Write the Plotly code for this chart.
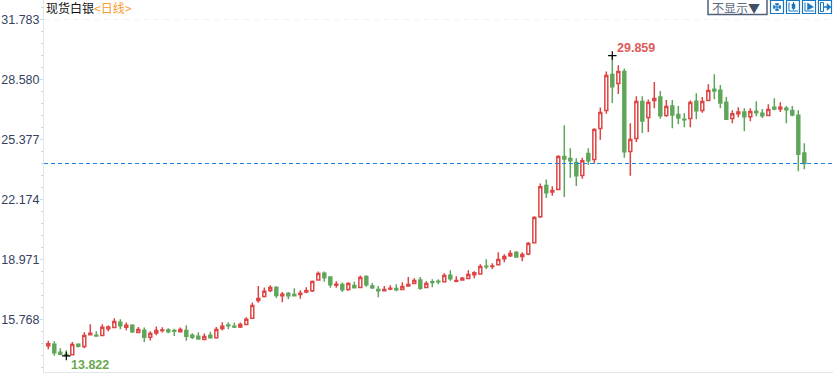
import plotly.graph_objects as go

title_name = "现货白银"
title_period = "&lt;日线&gt;"
tick_values = [15.768, 18.971, 22.174, 25.377, 28.580, 31.783]
tick_labels = ["15.768", "18.971", "22.174", "25.377", "28.580", "31.783"]
last_close = 24.096
peak_value = 29.859
trough_value = 13.822

high = [14.63,14.61,14.23,14.13,14.56,14.50,15.09,15.52,15.14,15.52,15.45,15.84,15.78,15.61,15.52,15.37,15.34,15.14,15.39,15.36,
        15.30,15.27,15.34,15.46,15.04,15.09,15.02,15.12,15.37,15.62,15.62,15.61,15.61,15.89,16.67,17.56,17.47,17.60,17.56,17.23,
        17.23,17.44,17.33,17.49,17.85,18.33,18.33,18.08,17.81,17.74,17.76,17.78,18.12,18.13,17.71,17.55,17.55,17.60,17.65,17.76,
        18.03,17.97,18.03,17.81,17.92,17.92,18.24,18.40,18.08,18.03,18.40,18.35,18.72,18.99,18.77,19.36,19.25,19.47,19.42,19.36,
        19.90,21.28,23.03,23.24,22.88,24.54,26.14,24.91,24.38,24.40,24.91,25.98,27.08,29.01,29.859,29.34,29.17,26.25,27.69,27.69,
        27.51,28.44,27.96,27.48,27.48,27.16,26.78,27.46,27.85,27.64,28.33,28.86,28.28,27.64,26.94,27.10,27.05,27.05,27.42,27.00,
        27.26,27.58,27.37,27.16,27.16,26.94,25.18]
low = [14.18,13.83,13.86,13.822,13.86,14.27,14.23,14.91,14.88,14.89,15.14,15.32,15.25,15.20,15.05,15.05,14.56,14.64,14.93,15.07,
       15.04,14.89,15.09,14.63,14.73,14.68,14.68,14.75,14.77,15.18,15.25,15.32,15.32,15.46,15.80,16.66,16.94,17.23,16.91,16.69,
       16.85,17.01,16.87,17.17,17.24,17.87,17.78,17.46,17.46,17.23,17.30,17.44,17.46,17.51,17.39,16.96,17.28,17.33,17.28,17.35,
       17.55,17.67,17.35,17.44,17.49,17.65,17.76,17.83,17.76,17.87,17.94,17.97,18.19,18.45,18.47,18.67,18.83,19.11,19.10,18.88,
       19.20,19.82,21.18,22.26,22.37,22.69,22.31,23.33,22.90,23.28,24.01,24.08,25.36,26.75,27.33,27.81,24.40,23.44,25.25,25.73,
       25.78,27.05,26.48,26.59,25.98,26.19,26.03,26.03,26.46,26.80,27.44,27.53,27.05,26.46,26.25,26.57,25.82,26.35,26.62,26.52,
       26.62,26.94,26.84,26.25,26.62,23.68,23.79]
open_ = [14.36,14.45,14.02,13.90,13.88,14.45,14.32,14.95,14.93,14.91,15.27,15.34,15.62,15.36,15.46,15.07,15.20,14.82,15.05,15.18,
         15.21,15.18,15.12,15.18,14.93,14.88,14.70,14.93,14.79,15.29,15.48,15.41,15.37,15.50,15.84,16.78,16.99,17.31,17.47,17.03,
         17.15,17.10,17.10,17.24,17.30,17.88,18.24,18.03,17.60,17.63,17.37,17.58,17.47,18.06,17.55,17.37,17.30,17.39,17.42,17.37,
         17.56,17.69,17.87,17.47,17.78,17.81,17.78,18.13,17.81,17.88,17.96,18.15,18.20,18.61,18.60,18.69,19.01,19.17,19.34,19.13,
         19.27,19.86,21.25,22.92,22.58,22.71,24.47,24.36,24.15,23.45,24.63,24.31,25.96,26.92,28.85,28.37,29.01,24.73,25.43,27.40,
         26.55,27.46,27.64,26.66,27.16,26.71,26.46,26.50,27.42,26.92,27.46,28.06,28.01,27.37,26.50,26.75,26.84,26.59,26.89,26.78,
         26.66,27.10,27.01,27.05,26.92,26.67,24.65]
close = [14.47,13.99,13.91,13.84,14.43,14.34,14.91,15.04,14.89,15.36,15.37,15.66,15.43,15.46,15.11,15.23,14.82,15.02,15.18,15.21,
         15.11,15.14,15.23,14.88,14.82,14.73,14.86,14.79,15.23,15.41,15.43,15.37,15.50,15.78,16.51,16.89,17.28,17.47,17.05,17.12,
         17.03,17.03,17.17,17.30,17.80,18.22,17.99,17.62,17.65,17.35,17.69,17.46,18.01,17.62,17.46,17.30,17.37,17.44,17.35,17.53,
         17.63,17.85,17.44,17.69,17.74,17.78,18.12,17.94,17.85,17.97,18.17,18.26,18.60,18.58,18.63,18.97,19.13,19.29,19.11,19.24,
         19.82,21.21,22.85,22.53,22.65,24.47,24.34,24.24,23.44,24.24,24.24,25.91,26.82,28.79,28.19,29.01,24.72,25.38,27.40,26.37,
         27.35,27.56,26.64,27.14,26.69,26.53,26.43,27.35,26.91,27.41,27.99,27.97,27.33,26.46,26.75,26.84,26.59,26.87,26.80,26.64,
         26.98,27.01,27.10,26.96,26.69,24.59,24.09]
index = list(range(len(close)))
peak_index = 94
trough_index = 3

RED = "#dd4444"
GREEN = "#5fa65a"
W, H = 833, 373
L, PH = 44, 372
PW = W - L


def px(x):
    return (x - L) / PW


def py(y):
    return 1 - y / PH


def path(points, closed=False):
    s = "M " + " L ".join(f"{px(x):.5f},{py(y):.5f}" for x, y in points)
    return s + (" Z" if closed else "")


shapes = [
    dict(type="line", xref="paper", yref="y", x0=0, x1=1, y0=last_close, y1=last_close,
         line=dict(color="#1a80e8", width=1, dash="4px,3px")),
    dict(type="line", xref="paper", yref="y", x0=0, x1=1, y0=tick_values[-1], y1=tick_values[-1],
         line=dict(color="#eef2f5", width=1, dash="5px,5px")),
]


def rect(x0, y0, x1, y1, color, fill=None, width=1):
    shapes.append(dict(type="rect", xref="paper", yref="paper", x0=px(x0), x1=px(x1), y0=py(y0), y1=py(y1),
                       line=dict(color=color, width=width), fillcolor=fill or "rgba(0,0,0,0)"))


def stroke(points, color, width=1, fill=None):
    shapes.append(dict(type="path", xref="paper", yref="paper", path=path(points, fill is not None),
                       line=dict(color=color, width=width), fillcolor=fill or "rgba(0,0,0,0)"))


BLUE = "#1a78c2"
rect(708, -2, 767, 14.5, "#51607a", width=1.5)
for x0 in (770.5, 786.5, 802.5, 818.5):
    rect(x0, 0.5, x0 + 13, 13.5, BLUE, width=1.2)
# icon 1: cross
stroke([(773, 7), (781, 7)], BLUE, 1)
stroke([(777, 3), (777, 11)], BLUE, 1)
rect(775.5, 3.5, 778.5, 5, BLUE, BLUE, 0.5)
rect(775.5, 9, 778.5, 10.5, BLUE, BLUE, 0.5)
rect(773.5, 5.5, 775, 8.5, BLUE, BLUE, 0.5)
rect(779, 5.5, 780.5, 8.5, BLUE, BLUE, 0.5)
# icon 2: axes and bar
stroke([(789, 2.5), (789, 11), (798, 11)], BLUE, 1)
rect(792, 4, 795, 8.5, BLUE, BLUE, 0.5)
stroke([(793.5, 2), (793.5, 10)], BLUE, 1)
# icon 3: axes and arrow
stroke([(805, 2.5), (805, 11), (814, 11)], BLUE, 1)
stroke([(807.5, 3), (813.5, 7), (807.5, 10)], BLUE, 0.5, BLUE)
# icon 4: bar and arrow
rect(820.5, 2.5, 823.5, 11.5, BLUE, width=1)
stroke([(824, 7), (827, 7)], BLUE, 1.5)
stroke([(827, 3.5), (831, 7), (827, 10.5)], BLUE, 0.5, BLUE)

annotations = [
    dict(xref="paper", yref="paper", x=px(43.5), y=py(8), xanchor="left", yanchor="middle", showarrow=False,
         text=f"<span style='color:#111'>{title_name}</span><span style='color:#f79a2e'>{title_period}</span>",
         font=dict(family="Noto Sans CJK SC", size=12)),
    dict(xref="paper", yref="paper", x=px(710), y=py(7.5), xanchor="left", yanchor="middle", showarrow=False,
         text="<span style='color:#5d6b80'>不显示</span><span style='color:#3f5068'>▼</span>",
         font=dict(family="Noto Sans CJK SC", size=12)),
    dict(x=peak_index, y=peak_value, xanchor="left", yanchor="middle", showarrow=False, xshift=3, yshift=8,
         text=f"<b>{peak_value:.3f}</b>", font=dict(family="Liberation Sans", size=12.5, color="#e05a5a")),
    dict(x=trough_index, y=trough_value, xanchor="left", yanchor="middle", showarrow=False, xshift=3, yshift=-9,
         text=f"<b>{trough_value:.3f}</b>", font=dict(family="Liberation Sans", size=12.5, color="#6aa84f")),
]

fig = go.Figure()
fig.add_trace(go.Candlestick(
    x=index, open=open_, high=high, low=low, close=close, whiskerwidth=0,
    increasing=dict(line=dict(color=RED, width=1.5), fillcolor="#ffffff"),
    decreasing=dict(line=dict(color=GREEN, width=1.5), fillcolor=GREEN),
    showlegend=False, hoverinfo="skip",
))
fig.add_trace(go.Scatter(
    x=[peak_index, trough_index], y=[peak_value, trough_value], mode="markers",
    marker=dict(symbol="cross-thin", size=6, line=dict(color="#000", width=1.2)),
    showlegend=False, hoverinfo="skip",
))
fig.update_layout(
    width=W, height=H, autosize=False, paper_bgcolor="white", plot_bgcolor="white",
    margin=dict(l=L, r=0, t=0, b=H - PH, pad=0), boxgap=0.3, shapes=shapes, annotations=annotations,
    font=dict(family="Liberation Sans", size=12),
    xaxis=dict(range=[-0.717, 130.78], rangeslider=dict(visible=False), showgrid=False, zeroline=False,
               showticklabels=False, ticks="", showline=True, linecolor="#dfe7ec", linewidth=1, fixedrange=True),
    yaxis=dict(range=[12.965, 32.824], showgrid=False, zeroline=False, showline=True, linecolor="#dfe7ec", linewidth=1,
               tickmode="array", tickvals=tick_values, ticktext=tick_labels, ticks="outside", ticklen=3,
               ticklabelstandoff=-2,
               tickcolor="#cfd9e0", tickfont=dict(color="#34425f", size=12.5, family="Liberation Sans"),
               minor=dict(ticks="outside", ticklen=2, tickcolor="#cfd9e0", tick0=15.768, dtick=0.6406), fixedrange=True),
)
fig.write_html("out.html", config=dict(displayModeBar=False),
               post_script="document.body.style.margin='0';document.body.style.overflow='hidden';")
